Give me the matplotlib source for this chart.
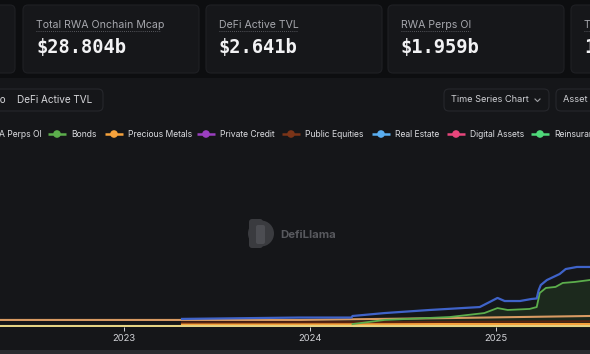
import matplotlib
matplotlib.use("Agg")
import matplotlib.pyplot as plt
import matplotlib.dates as mdates
from matplotlib.patches import FancyBboxPatch, Circle
import pandas as pd

plt.rcParams['font.family'] = ['Inter', 'DejaVu Sans']

### Data

card_labels = ["", "Total RWA Onchain Mcap", "DeFi Active TVL", "RWA Perps OI", "Total RWA Holders"]
card_values = ["", "$28.804b", "$2.641b", "$1.959b", "1,284"]

legend_labels = ["RWA Perps OI", "Bonds", "Precious Metals", "Private Credit",
                 "Public Equities", "Real Estate", "Digital Assets", "Reinsurance"]
legend_colors = ["#3f63c9", "#5cae4c", "#f6a23c", "#9b3fc0",
                 "#7a3418", "#5aaef0", "#e8467c", "#4fd97a"]

# series values in $b
perps_dates = ["2023-04-25", "2023-12-12", "2024-03-23", "2024-03-25", "2024-05-27",
               "2024-08-24", "2024-11-30", "2024-12-16", "2025-01-04", "2025-01-18",
               "2025-02-17", "2025-03-12", "2025-03-22", "2025-03-26", "2025-03-30",
               "2025-04-11", "2025-05-06", "2025-05-18", "2025-06-09", "2025-07-04"]
perps_vals = [0.47, 0.55, 0.55, 0.64, 0.81, 0.99, 1.16, 1.40, 1.69, 1.51,
              1.51, 1.63, 1.66, 2.15, 2.44, 2.73, 3.08, 3.37, 3.49, 3.49]

bonds_dates = ["2024-03-25", "2024-05-27", "2024-10-02", "2024-12-09", "2025-01-04",
               "2025-01-24", "2025-03-08", "2025-03-22", "2025-03-28", "2025-04-09",
               "2025-04-28", "2025-05-12", "2025-06-05", "2025-07-04"]
bonds_vals = [0.17, 0.41, 0.58, 0.81, 1.10, 0.99, 1.05, 1.16, 1.98, 2.27,
              2.33, 2.56, 2.62, 2.73]

metals_dates = ["2022-05-02", "2023-12-12", "2024-10-02", "2025-07-04"]
metals_vals = [0.41, 0.41, 0.52, 0.64]

equities_dates = ["2023-04-25", "2024-06-01", "2025-07-04"]
equities_vals = [0.26, 0.28, 0.33]

credit_dates = ["2023-04-25", "2025-07-04"]
credit_vals = [0.15, 0.15]

other_dates = ["2022-05-02", "2025-07-04"]
other_vals = [0.06, 0.06]

### Figure

W, H = 590, 354
page_bg = "#0d0e10"
card_bg = "#16171a"
border = "#26272c"

fig = plt.figure(figsize=(W / 100, H / 100), dpi=100)
fig.patch.set_facecolor(page_bg)

ui = fig.add_axes([0, 0, 1, 1])
ui.set_xlim(0, W)
ui.set_ylim(H, 0)
ui.axis("off")

def box(x0, y0, x1, y1, fc, ec, r=5):
    ui.add_patch(FancyBboxPatch((x0, y0), x1 - x0, y1 - y0,
                                boxstyle=f"round,pad=0,rounding_size={r}",
                                fc=fc, ec=ec, lw=0.8, clip_on=False))

# stat cards
card_x = [(-30, 15), (23, 199), (206, 382), (388, 564), (571, 760)]
under_w = [0, 125, 78, 69, 120]
for (x0, x1), lab, val, uw in zip(card_x, card_labels, card_values, under_w):
    box(x0, 5, x1, 73, card_bg, "#1f2024")
    if lab:
        ui.text(x0 + 13, 25, lab, color="#a6a7ad", fontsize=7.6, va="center")
        ui.plot([x0 + 13, x0 + 13 + uw], [31, 31], color="#6b6c72", lw=0.6, ls=(0, (1, 1.5)))
        ui.text(x0 + 13, 48, val, color="#f2f2f4", fontsize=13.5, va="center",
                family="DejaVu Sans Mono", weight="bold")

# chart panel
ui.add_patch(plt.Rectangle((0, 78), W, 272, fc="#151619", ec="none"))

# buttons row
box(-80, 89, 103, 111, "#151619", border)
ui.text(6, 100, "Mcap Ratio", color="#d6d6da", fontsize=7, va="center", ha="right")
ui.text(17, 100, "DeFi Active TVL", color="#d6d6da", fontsize=7.2, va="center")
box(444, 89, 549, 111, "#151619", border)
ui.text(451, 100, "Time Series Chart", color="#cfd0d4", fontsize=6.6, va="center")
ui.plot([535, 537.5, 540], [99, 101.5, 99], color="#a0a1a6", lw=0.8)
box(556, 89, 640, 111, "#151619", border)
ui.text(563, 100, "Asset Class", color="#cfd0d4", fontsize=6.6, va="center")

# legend row
legend_mark_x = [-29, 57, 114, 206, 291, 381, 456, 540]
for cx, lab, col in zip(legend_mark_x, legend_labels, legend_colors):
    ui.plot([cx - 9, cx + 9], [134, 134], color=col, lw=1.8, solid_capstyle="butt")
    ui.add_patch(Circle((cx, 134), 3.8, fc=col, ec="none"))
    ui.text(cx + 14, 134.5, lab, color="#dcdde1", fontsize=6.2, va="center")

# watermark
ui.add_patch(FancyBboxPatch((249, 219), 14, 29, boxstyle="round,pad=0,rounding_size=3",
                            fc="#3a3b3f", ec="none"))
ui.add_patch(Circle((261, 233.5), 13, fc="#3a3b3f", ec="none"))
ui.add_patch(FancyBboxPatch((256, 225), 9, 19, boxstyle="round,pad=0,rounding_size=2",
                            fc="#4c4d52", ec="none"))
ui.text(280, 234.5, "DefiLlama", color="#58595e", fontsize=8.2, weight="bold", va="center")

### Chart
ax = fig.add_axes([0, (H - 327) / H, 1, 172 / H])
ax.set_facecolor("none")
for s in ax.spines.values():
    s.set_visible(False)

d = lambda lst: pd.to_datetime(lst)

ax.plot(d(other_dates), other_vals, color="#e5d384", lw=1.5)
ax.plot(d(credit_dates), credit_vals, color="#f6a23c", lw=1.5)
ax.plot(d(equities_dates), equities_vals, color="#5a2410", lw=1.5)
ax.plot(d(metals_dates), metals_vals, color="#d89a62", lw=1.5)
ax.fill_between(d(bonds_dates), bonds_vals, 0, color="#3d7a30", alpha=0.2, lw=0)
ax.plot(d(bonds_dates), bonds_vals, color="#5cae4c", lw=1.3)
ax.plot(d(perps_dates), perps_vals, color="#3f63c9", lw=1.6)

left = mdates.date2num(pd.Timestamp("2023-01-01")) - 124 * 365.5 / 186
right = mdates.date2num(pd.Timestamp("2025-01-01")) + 94 * 365.5 / 186
ax.set_xlim(left, right)
ax.set_ylim(0, 10)
ax.xaxis.set_major_locator(mdates.YearLocator())
ax.xaxis.set_major_formatter(mdates.DateFormatter("%Y"))
ax.tick_params(axis="x", colors="#d0d1d6", labelsize=6.8, length=3, width=0.7, pad=2)
ax.set_yticks([])

# bottom strip
ui.add_patch(plt.Rectangle((0, 350), W, 4, fc="#2a2b2f", ec="none"))

fig.savefig("out.png", dpi=100, facecolor=fig.get_facecolor())
